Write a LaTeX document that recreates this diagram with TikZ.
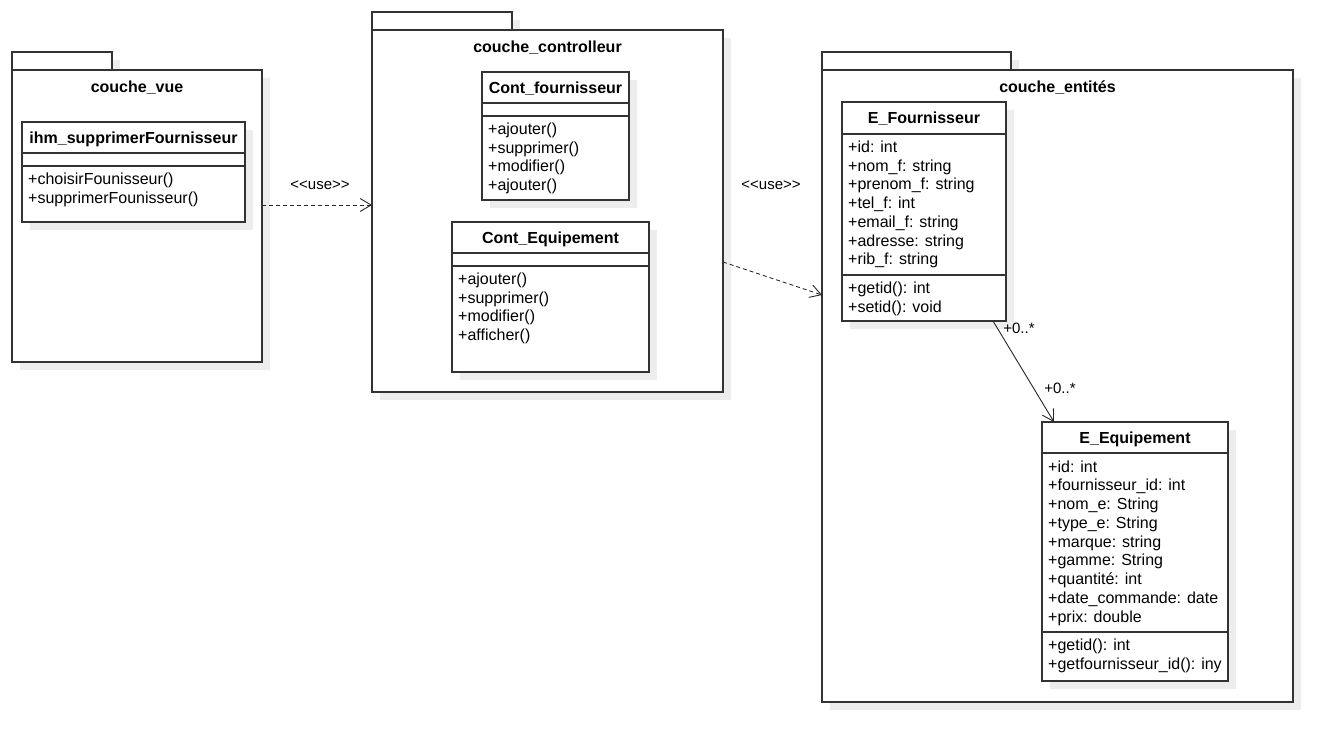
\documentclass[tikz,border=0pt]{standalone}
\usepackage{fontspec}
\setmainfont{Liberation Sans}[Ligatures=TeXOff]
\usetikzlibrary{arrows.meta,positioning,shadows}

\begin{document}
\begin{tikzpicture}[x=1pt,y=-1pt,font=\fontsize{16}{19}\selectfont,
	box/.style={draw=black!80,line width=1.1pt,fill=white,inner sep=0pt,outer sep=0pt,
		drop shadow={shadow xshift=8pt,shadow yshift=-8pt,fill=black!7,opacity=1}},
	btitle/.style={anchor=base,inner sep=0pt,font=\fontsize{16}{19}\selectfont\bfseries},
	member/.style={anchor=base west,inner sep=0pt},
	sep/.style={draw=black!80,line width=1.1pt},
	use/.style={draw=black!85,line width=0.9pt,dash pattern=on 4pt off 3pt,-{Straight Barb[length=11pt,width=13pt]}},
	assoc/.style={draw=black!85,line width=0.9pt,-{Straight Barb[length=11pt,width=13pt]}},
	lbl/.style={inner sep=0pt,font=\fontsize{15}{18}\selectfont}]
\useasboundingbox (0,0) rectangle (1342,752);

\node[box,minimum width=100pt,minimum height=18pt,anchor=north west] (vue-tab) at (12,52) {};
\node[box,minimum width=250pt,minimum height=292pt,below=0pt of vue-tab.south west,anchor=north west] (vue) {};
\node[btitle] (vue-t) at ([yshift=-22.5pt]vue.north) {couche\_vue};

\node[box,minimum width=140pt,minimum height=18pt,anchor=north west] (ctrl-tab) at (372,12) {};
\node[box,minimum width=351pt,minimum height=362pt,below=0pt of ctrl-tab.south west,anchor=north west] (ctrl) {};
\node[btitle] (ctrl-t) at ([yshift=-22.5pt]ctrl.north) {couche\_controlleur};

\node[box,minimum width=189pt,minimum height=18pt,anchor=north west] (ent-tab) at (822,52) {};
\node[box,minimum width=471pt,minimum height=632pt,below=0pt of ent-tab.south west,anchor=north west] (ent) {};
\node[btitle] (ent-t) at ([yshift=-22.5pt]ent.north) {couche\_entités};

\node[box,minimum width=223pt,minimum height=100pt,anchor=north west] (ihm) at (22,122) {};
\node[btitle] (ihm-t) at ([yshift=-21pt]ihm.north) {ihm\_supprimerFournisseur};
\draw[sep] ([yshift=-31pt]ihm.north west) -- ([yshift=-31pt]ihm.north east);
\draw[sep] ([yshift=-44pt]ihm.north west) -- ([yshift=-44pt]ihm.north east);
\foreach \m [count=\i] in {+choisirFounisseur(),+supprimerFounisseur()}
	\node[member,name=ihm-m\i] at ([shift={(6,{62.5+(\i-1)*18.7})}]ihm.north west) {\m};

\node[box,minimum width=147pt,minimum height=128pt,anchor=north west] (cf) at (482,72) {};
\node[btitle] (cf-t) at ([yshift=-21pt]cf.north) {Cont\_fournisseur};
\draw[sep] ([yshift=-31pt]cf.north west) -- ([yshift=-31pt]cf.north east);
\draw[sep] ([yshift=-44pt]cf.north west) -- ([yshift=-44pt]cf.north east);
\foreach \m [count=\i] in {+ajouter(),+supprimer(),+modifier(),+ajouter()}
	\node[member,name=cf-m\i] at ([shift={(6,{62.5+(\i-1)*18.7})}]cf.north west) {\m};

\node[box,minimum width=197pt,minimum height=150pt,anchor=north west] (ce) at (452,222) {};
\node[btitle] (ce-t) at ([yshift=-21pt]ce.north) {Cont\_Equipement};
\draw[sep] ([yshift=-31pt]ce.north west) -- ([yshift=-31pt]ce.north east);
\draw[sep] ([yshift=-44pt]ce.north west) -- ([yshift=-44pt]ce.north east);
\foreach \m [count=\i] in {+ajouter(),+supprimer(),+modifier(),+afficher()}
	\node[member,name=ce-m\i] at ([shift={(6,{62.5+(\i-1)*18.7})}]ce.north west) {\m};

\node[box,minimum width=164pt,minimum height=219pt,anchor=north west] (ef) at (842,102) {};
\node[btitle] (ef-t) at ([yshift=-21pt]ef.north) {E\_Fournisseur};
\draw[sep] ([yshift=-32pt]ef.north west) -- ([yshift=-32pt]ef.north east);
\draw[sep] ([yshift=-173pt]ef.north west) -- ([yshift=-173pt]ef.north east);
\foreach \m [count=\i] in {+id: int,+nom\_f: string,+prenom\_f: string,+tel\_f: int,+email\_f: string,+adresse: string,+rib\_f: string}
	\node[member,name=ef-a\i] at ([shift={(6,{50.5+(\i-1)*18.7})}]ef.north west) {\m};
\foreach \m [count=\i] in {+getid(): int,+setid(): void}
	\node[member,name=ef-m\i] at ([shift={(6,{191.5+(\i-1)*18.7})}]ef.north west) {\m};

\node[box,minimum width=186pt,minimum height=259pt,anchor=north west] (ee) at (1042,422) {};
\node[btitle] (ee-t) at ([yshift=-21pt]ee.north) {E\_Equipement};
\draw[sep] ([yshift=-31pt]ee.north west) -- ([yshift=-31pt]ee.north east);
\draw[sep] ([yshift=-210pt]ee.north west) -- ([yshift=-210pt]ee.north east);
\foreach \m [count=\i] in {+id: int,+fournisseur\_id: int,+nom\_e: String,+type\_e: String,+marque: string,+gamme: String,+quantité: int,+date\_commande: date,+prix: double}
	\node[member,name=ee-a\i] at ([shift={(6,{50+(\i-1)*18.75})}]ee.north west) {\m};
\foreach \m [count=\i] in {+getid(): int,+getfournisseur\_id(): iny}
	\node[member,name=ee-m\i] at ([shift={(6,{228.5+(\i-1)*18.75})}]ee.north west) {\m};

\draw[use] ([yshift=11pt]vue.east) -- ([yshift=11pt]vue.east -| ctrl.west);
\node[lbl] (use1) at (320,185) {<<use>>};
\draw[use] ([yshift=-51pt]ctrl.east) -- ([yshift=91pt]ent.west);
\node[lbl] (use2) at (771,185) {<<use>>};

\draw[assoc] ([xshift=69pt]ef.south) -- ([xshift=-81pt]ee.north);
\node[lbl] (mult1) at (1019,328) {+0..*};
\node[lbl] (mult2) at (1060,388) {+0..*};
\end{tikzpicture}
\end{document}
